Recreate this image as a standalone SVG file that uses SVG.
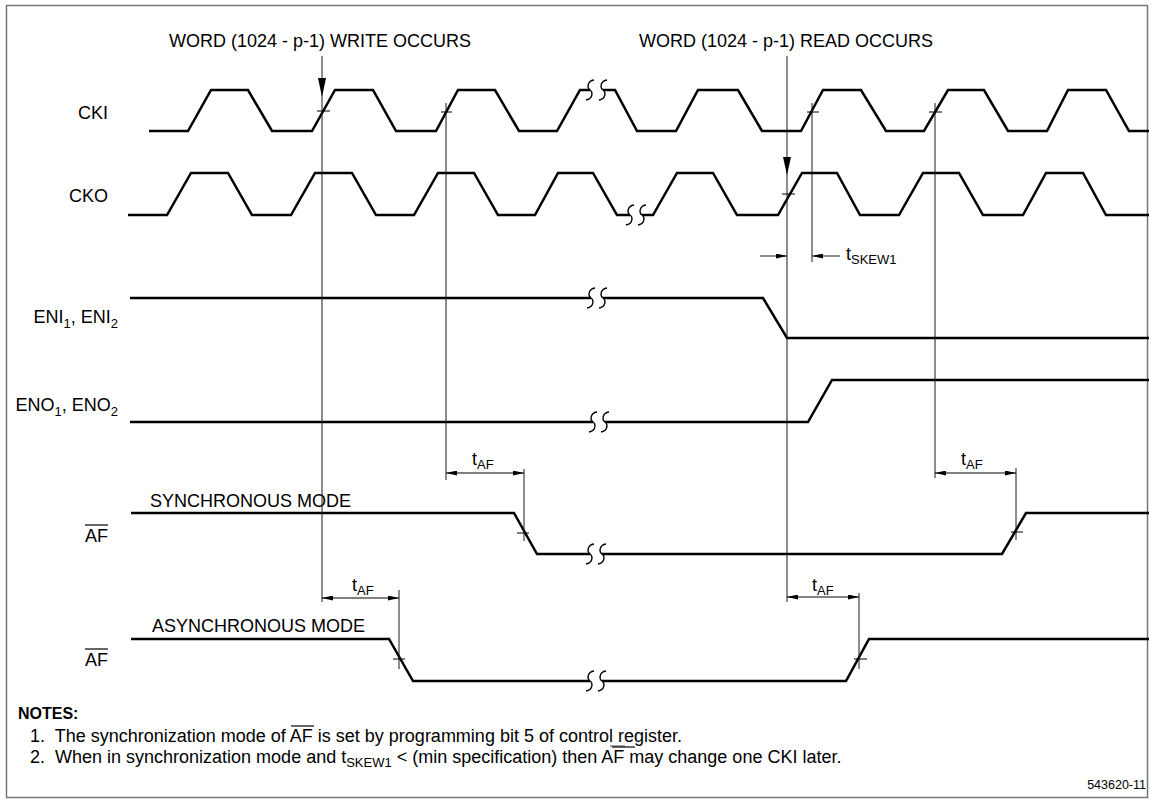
<svg xmlns="http://www.w3.org/2000/svg" width="1156" height="804" viewBox="0 0 1156 804">
<style>
text{font-family:"Liberation Sans",Arial,Helvetica,sans-serif;fill:#000}
.lbl{font-size:18px}
.sub{font-size:13px}
.wave{fill:none;stroke:#000;stroke-width:2.5;stroke-linejoin:miter;stroke-miterlimit:10}
.vl{fill:none;stroke:#1a1a1a;stroke-width:1}
.tk{fill:none;stroke:#000;stroke-width:1}
.brk{fill:none;stroke:#000;stroke-width:1.4}
.dim{fill:none;stroke:#000;stroke-width:1;marker-start:url(#ah);marker-end:url(#ah)}
.ov{stroke:#000;stroke-width:1.2}
.note{font-size:18px}
</style>
<defs>
<path id="s" d="M4,-10 C-3,-9 -3,-2 0,0 C3,2 3,9 -4,10"/>
<marker id="ah" viewBox="0 0 11 5" refX="11" refY="2.5" markerWidth="11" markerHeight="5" orient="auto-start-reverse" markerUnits="userSpaceOnUse"><path d="M0,0 L11,2.5 L0,5 z" fill="#000"/></marker>
<marker id="ah2" viewBox="0 0 11 5" refX="11" refY="2.5" markerWidth="11" markerHeight="5" orient="auto" markerUnits="userSpaceOnUse"><path d="M0,0 L11,2.5 L0,5 z" fill="#000"/></marker>
</defs>
<rect x="6.5" y="5.5" width="1141" height="792" fill="#fff" stroke="#777" stroke-width="1.5"/>

<g id="labels">
<text class="lbl" x="169" y="47">WORD (1024 - p-1) WRITE OCCURS</text>
<text class="lbl" x="639" y="47">WORD (1024 - p-1) READ OCCURS</text>
</g>

<g id="cki">
<text class="lbl" x="108" y="119" text-anchor="end">CKI</text>
<path class="wave" d="M149,131 L188,131 L211,90 L248,90 L272,131 L312,131 L335,90 L373,90 L396,131 L436,131 L458,90 L495,90 L519,131 L557,131 L580,90 L590,90 M603,90 L615,90 L637,131 L676,131 L698,90 L738,90 L762,131 L801,131 L823,90 L861,90 L886,131 L924,131 L948,90 L984,90 L1008,131 L1047,131 L1068,90 L1106,90 L1129,131 L1149,131"/>
<use href="#s" class="brk" x="590" y="90"/><use href="#s" class="brk" x="603" y="90"/>
</g>

<g id="cko">
<text class="lbl" x="108" y="202" text-anchor="end">CKO</text>
<path class="wave" d="M128,215 L167,215 L191,173 L228,173 L252,215 L291,215 L315,173 L352,173 L376,215 L414,215 L438,173 L474,173 L498,215 L535,215 L558,173 L593,173 L617,215 L630,215 M642,215 L653,215 L677,173 L713,173 L737,215 L778,215 L802,173 L837,173 L860,215 L899,215 L923,173 L959,173 L983,215 L1023,215 L1046,173 L1083,173 L1106,215 L1149,215"/>
<use href="#s" class="brk" x="630" y="215"/><use href="#s" class="brk" x="642" y="215"/>
</g>

<g id="eni">
<text class="lbl" x="118" y="323" text-anchor="end">ENI<tspan class="sub" dy="5">1</tspan><tspan dy="-5">, ENI</tspan><tspan class="sub" dy="5">2</tspan></text>
<path class="wave" d="M130,298 L591,298 M603,298 L763,298 L787,338 L1149,338"/>
<use href="#s" class="brk" x="591" y="298"/><use href="#s" class="brk" x="603" y="298"/>
</g>

<g id="eno">
<text class="lbl" x="118" y="411" text-anchor="end">ENO<tspan class="sub" dy="5">1</tspan><tspan dy="-5">, ENO</tspan><tspan class="sub" dy="5">2</tspan></text>
<path class="wave" d="M130,422 L593,422 M605,422 L808,422 L832,380 L1149,380"/>
<use href="#s" class="brk" x="593" y="422"/><use href="#s" class="brk" x="605" y="422"/>
</g>

<g id="af-sync">
<text class="lbl" x="85" y="542">AF</text>
<line class="ov" x1="85" y1="525" x2="108" y2="525"/>
<text class="lbl" x="150" y="507">SYNCHRONOUS MODE</text>
<path class="wave" d="M131,513 L514,513 L537,554 L590,554 M602,554 L1002,554 L1026,513 L1149,513"/>
<use href="#s" class="brk" x="590" y="554"/><use href="#s" class="brk" x="602" y="554"/>
</g>

<g id="af-async">
<text class="lbl" x="85" y="666">AF</text>
<line class="ov" x1="85" y1="649" x2="108" y2="649"/>
<text class="lbl" x="152" y="632">ASYNCHRONOUS MODE</text>
<path class="wave" d="M131,639 L389,639 L413,681 L590,681 M602,681 L846,681 L869,639 L1149,639"/>
<use href="#s" class="brk" x="590" y="681"/><use href="#s" class="brk" x="602" y="681"/>
</g>

<g id="connectors">
<line class="vl" x1="322" y1="56" x2="322" y2="602"/>
<polygon points="318,78 326,78 322,97" fill="#000"/>
<line class="vl" x1="787" y1="56" x2="787" y2="602"/>
<polygon points="783,157 791,157 787,175" fill="#000"/>
<line class="vl" x1="446" y1="103" x2="446" y2="480"/>
<line class="vl" x1="812" y1="103" x2="812" y2="262"/>
<line class="vl" x1="935" y1="103" x2="935" y2="478"/>
<line class="vl" x1="524" y1="469" x2="524" y2="541"/>
<line class="vl" x1="1016" y1="468" x2="1016" y2="540"/>
<line class="vl" x1="399" y1="590" x2="399" y2="669"/>
<line class="vl" x1="859" y1="593" x2="859" y2="669"/>
<line class="tk" x1="317" y1="111" x2="330" y2="111"/>
<line class="tk" x1="441" y1="112" x2="452" y2="112"/>
<line class="tk" x1="807" y1="112" x2="819" y2="112"/>
<line class="tk" x1="929" y1="112" x2="942" y2="112"/>
<line class="tk" x1="782" y1="194" x2="795" y2="194"/>
<line class="tk" x1="517" y1="533" x2="529" y2="533"/>
<line class="tk" x1="1011" y1="532" x2="1023" y2="532"/>
<line class="tk" x1="393" y1="659" x2="405" y2="659"/>
<line class="tk" x1="854" y1="659" x2="867" y2="659"/>
<line class="dim" x1="446" y1="473" x2="524" y2="473"/>
<line class="dim" x1="935" y1="473" x2="1016" y2="473"/>
<line class="dim" x1="322" y1="598" x2="399" y2="598"/>
<line class="dim" x1="787" y1="597" x2="859" y2="597"/>
<line class="vl" x1="760" y1="256" x2="787" y2="256" marker-end="url(#ah2)"/>
<line class="vl" x1="840" y1="256" x2="812" y2="256" marker-end="url(#ah2)"/>
</g>

<g id="dim-labels">
<text class="lbl" x="472" y="465">t<tspan class="sub" dy="4">AF</tspan></text>
<text class="lbl" x="961" y="465">t<tspan class="sub" dy="4">AF</tspan></text>
<text class="lbl" x="352" y="591">t<tspan class="sub" dy="4">AF</tspan></text>
<text class="lbl" x="812" y="591">t<tspan class="sub" dy="4">AF</tspan></text>
<text class="lbl" x="846" y="260">t<tspan class="sub" dy="4">SKEW1</tspan></text>
</g>

<g id="notes">
<text x="18" y="719" font-size="16" font-weight="bold">NOTES:</text>
<text class="note" x="30" y="742" xml:space="preserve">1.  The synchronization mode of AF is set by programming bit 5 of control register.</text>
<line class="ov" x1="291" y1="726" x2="314" y2="726"/>
<line x1="610" y1="746" x2="625" y2="746" stroke="#888" stroke-width="1.5"/>
<text class="note" x="30" y="763" xml:space="preserve">2.  When in synchronization mode and t<tspan class="sub" dy="4">SKEW1</tspan><tspan dy="-4"> &lt; (min specification) then AF may change one CKI later.</tspan></text>
<line class="ov" x1="612" y1="747" x2="635" y2="747"/>
<text x="1146" y="789" font-size="12.5" text-anchor="end">543620-11</text>
</g>
</svg>
